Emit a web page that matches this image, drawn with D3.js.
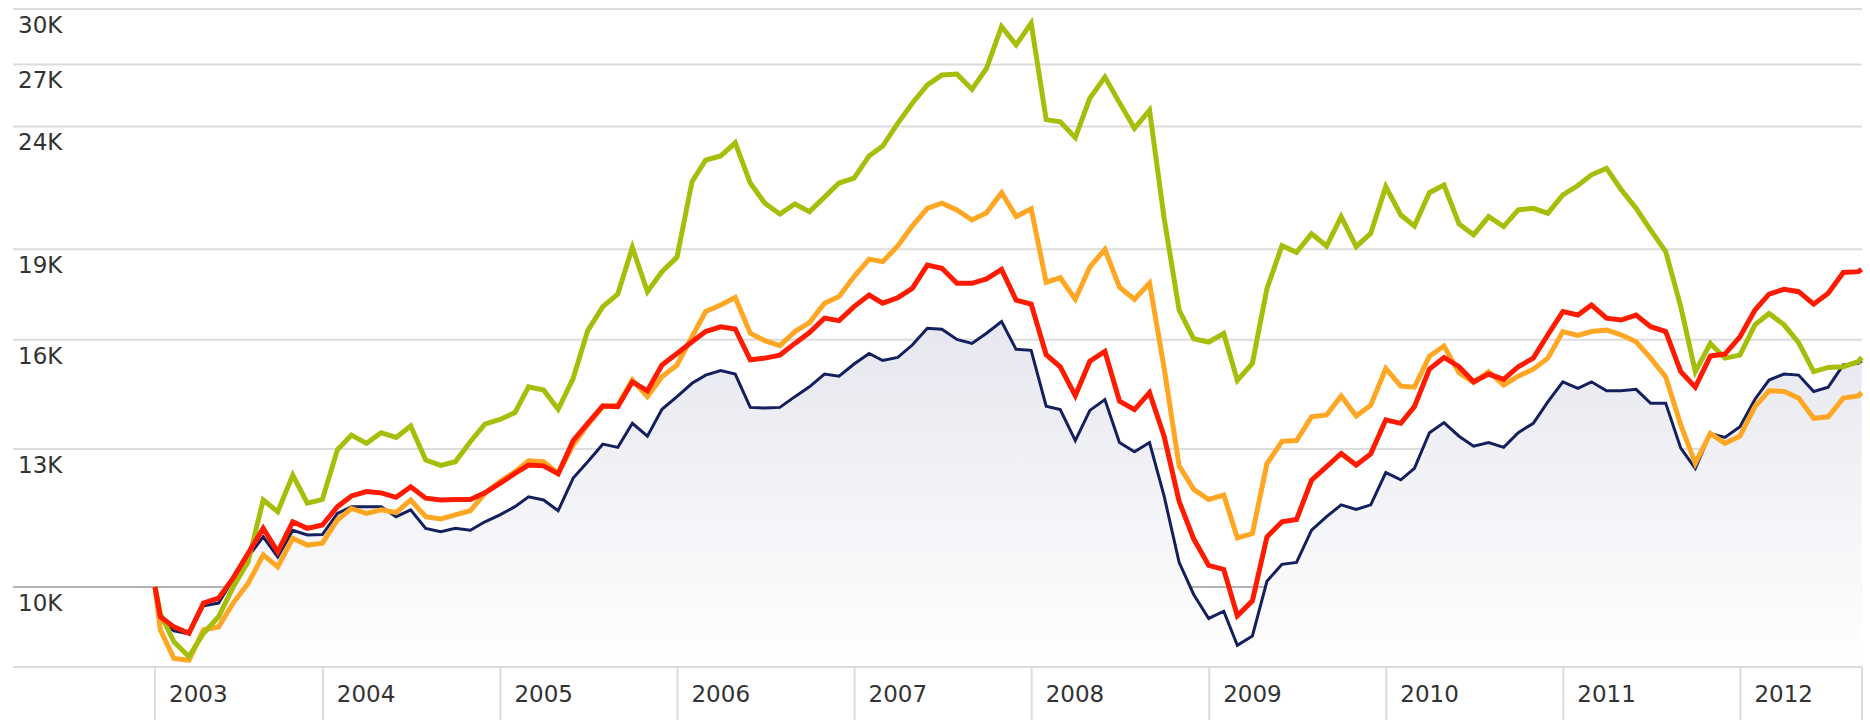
<!DOCTYPE html>
<html>
<head>
<meta charset="utf-8">
<script src="https://cdn.jsdelivr.net/npm/d3@7"></script>
<style>
body { margin: 0; background: #fff; }
svg { display: block; font-family: "DejaVu Sans", Verdana, sans-serif; }
.grid line { stroke: #dcdcdc; stroke-width: 2; }
.grid line.base { stroke: #b4b4b4; }
.ylabel, .xlabel { fill: #333; font-size: 23px; }
.xaxis line { stroke: #dcdcdc; stroke-width: 2; }
.series { fill: none; stroke-linejoin: miter; }
</style>
</head>
<body>
<svg id="chart" width="1870" height="720"></svg>
<script>
// first point is the start date, then month ends, last point is a mid-month date
var startDate = "2003-01-20";
var endDate = "2012-09-07";

var yTicks = [10000, 13000, 16000, 19000, 24000, 27000, 30000];
var yTickLabels = ["10K", "13K", "16K", "19K", "24K", "27K", "30K"];
var years = [2003, 2004, 2005, 2006, 2007, 2008, 2009, 2010, 2011, 2012];

var navy = [10000, 9400, 9200, 9150, 9650, 9700, 10150, 10590, 11000, 10590, 11140, 11040, 11050,
    11500, 11650, 11650, 11650, 11430, 11580, 11180, 11110, 11180, 11140, 11320, 11470,
    11650, 11870, 11800, 11560, 12300, 12690, 13120, 13040, 13650, 13320, 14020, 14360,
    14730, 14960, 15090, 14990, 14070, 14050, 14070, 14360, 14630, 14990, 14930, 15280,
    15590, 15380, 15470, 15840, 16350, 16320, 16010, 15890, 16200, 16560, 15710, 15680,
    14100, 14010, 13210, 13990, 14280, 13160, 12930, 13160, 11890, 10480, 9860, 9420,
    9550, 8950, 9110, 10110, 10440, 10480, 11140, 11430, 11690, 11590, 11690, 12430,
    12260, 12530, 13410, 13670, 13320, 13070, 13160, 13040, 13410, 13650, 14220, 14770,
    14590, 14770, 14520, 14520, 14560, 14180, 14180, 13020, 12530, 13390, 13290, 13560,
    14290, 14820, 14990, 14960, 14500, 14620, 15250, 15300, 15370];

var orange = [10000, 9220, 8730, 8700, 9220, 9270, 9700, 10070, 10630, 10390, 10970, 10830, 10870,
    11360, 11610, 11500, 11580, 11520, 11800, 11430, 11380, 11470, 11560, 11950, 12220,
    12450, 12710, 12690, 12410, 13100, 13610, 14090, 14130, 14820, 14360, 14910, 15250,
    16090, 16880, 17090, 17340, 16200, 15970, 15820, 16250, 16530, 17150, 17370, 18040,
    18650, 18560, 19120, 19860, 20540, 20740, 20480, 20090, 20370, 21160, 20220, 20520,
    17850, 18000, 17280, 18370, 19000, 17680, 17280, 17820, 15170, 12590, 12040, 11810,
    11910, 10980, 11070, 12640, 13190, 13210, 13820, 13870, 14380, 13840, 14130, 15150,
    14650, 14620, 15510, 15810, 15030, 14750, 15060, 14680, 14930, 15130, 15450, 16250,
    16130, 16250, 16300, 16150, 15940, 15450, 14910, 13610, 12650, 13390, 13140, 13320,
    14090, 14520, 14500, 14320, 13780, 13820, 14320, 14380, 14470];

var green = [10000, 9510, 9010, 8760, 9160, 9450, 10000, 10490, 11800, 11540, 12370, 11730, 11810,
    12980, 13350, 13140, 13410, 13290, 13580, 12730, 12600, 12690, 13180, 13630, 13750,
    13930, 14630, 14540, 14020, 14870, 16280, 17040, 17450, 19070, 17530, 18210, 18720,
    21610, 22510, 22690, 23260, 21550, 20740, 20320, 20710, 20410, 20980, 21550, 21750,
    22690, 23120, 24140, 25080, 25970, 26460, 26510, 25750, 26800, 29010, 28020, 29190,
    24310, 24210, 23490, 25320, 26360, 25110, 23910, 24750, 20170, 16930, 16030, 15930,
    16190, 14810, 15300, 17630, 19130, 18890, 19570, 19120, 20220, 19100, 19590, 21400,
    20280, 19860, 21160, 21470, 19940, 19530, 20220, 19840, 20480, 20540, 20350, 21070,
    21450, 21890, 22160, 21290, 20540, 19710, 18920, 17040, 15060, 15890, 15450, 15540,
    16460, 16820, 16460, 15910, 15060, 15180, 15200, 15350, 15470];

var red = [10000, 9450, 9270, 9160, 9700, 9790, 10170, 10660, 11180, 10690, 11320, 11180, 11250,
    11650, 11890, 11990, 11960, 11860, 12100, 11840, 11800, 11810, 11810, 11960, 12180,
    12410, 12610, 12590, 12400, 13210, 13650, 14110, 14090, 14770, 14520, 15250, 15590,
    15940, 16250, 16400, 16330, 15400, 15450, 15540, 15890, 16220, 16670, 16590, 17040,
    17420, 17150, 17330, 17640, 18440, 18330, 17810, 17810, 17960, 18290, 17250, 17120,
    15550, 15200, 14390, 15360, 15650, 14240, 14010, 14470, 13320, 11770, 10960, 10420,
    10340, 9470, 9740, 11000, 11320, 11370, 12250, 12570, 12890, 12610, 12880, 13740,
    13650, 14090, 15130, 15470, 15200, 14770, 14990, 14840, 15200, 15450, 16150, 16880,
    16770, 17090, 16670, 16610, 16770, 16400, 16250, 15060, 14620, 15510, 15570, 16090,
    16930, 17450, 17610, 17530, 17120, 17480, 18180, 18210, 18290];

var parse = d3.timeParse("%Y-%m-%d");
var dates = [parse(startDate)]
    .concat(d3.range(1, 117).map(function(k) { return new Date(2003, k, 0); }))
    .concat([parse(endDate)]);

var svg = d3.select("#chart");
var plotLeft = 13, plotRight = 1862, plotTop = 9, plotBottom = 667;

var x = d3.scaleTime()
    .domain([dates[0], dates[dates.length - 1]])
    .range([155, 1861.7]);

var y = d3.scaleLog()
    .domain([8590, 30000])
    .range([plotBottom, plotTop]);

// gradient for the area under the navy series
var defs = svg.append("defs");
var grad = defs.append("linearGradient")
    .attr("id", "areaFill")
    .attr("x1", 0).attr("y1", 0).attr("x2", 0).attr("y2", 1);
grad.append("stop").attr("offset", "0%").attr("stop-color", "#e6e7ef");
grad.append("stop").attr("offset", "100%").attr("stop-color", "#ffffff");

// horizontal grid
var grid = svg.append("g").attr("class", "grid");
grid.selectAll("line")
    .data(yTicks)
    .enter().append("line")
    .attr("class", function(d) { return d === 10000 ? "base" : null; })
    .attr("x1", plotLeft).attr("x2", plotRight)
    .attr("y1", function(d) { return y(d); })
    .attr("y2", function(d) { return y(d); });

svg.append("g").selectAll("text")
    .data(yTicks)
    .enter().append("text")
    .attr("class", "ylabel")
    .attr("x", 18)
    .attr("y", function(d) { return y(d) + 24; })
    .text(function(d, i) { return yTickLabels[i]; });

// series
var pts = function(arr) { return arr.map(function(v, i) { return [dates[i], v]; }); };

var area = d3.area()
    .x(function(d) { return x(d[0]); })
    .y0(plotBottom)
    .y1(function(d) { return y(d[1]); });

var line = d3.line()
    .x(function(d) { return x(d[0]); })
    .y(function(d) { return y(d[1]); });

svg.append("path")
    .datum(pts(navy))
    .attr("d", area)
    .attr("fill", "url(#areaFill)");

var series = [
    { data: navy, color: "#14205e", width: 3 },
    { data: orange, color: "#ffa622", width: 5 },
    { data: green, color: "#a6be09", width: 5 },
    { data: red, color: "#ff1a00", width: 5 }
];

svg.append("g").selectAll("path")
    .data(series)
    .enter().append("path")
    .attr("class", "series")
    .attr("d", function(d) { return line(pts(d.data)); })
    .attr("stroke", function(d) { return d.color; })
    .attr("stroke-width", function(d) { return d.width; });

// x axis: baseline, year separators and labels
var xaxis = svg.append("g").attr("class", "xaxis");
xaxis.append("line")
    .attr("x1", plotLeft).attr("x2", plotRight)
    .attr("y1", plotBottom).attr("y2", plotBottom);

var bandStarts = years.map(function(yr, i) {
    return i === 0 ? x(dates[0]) : x(new Date(yr, 0, 1));
});

xaxis.selectAll(".sep")
    .data(bandStarts.concat([plotRight]))
    .enter().append("line")
    .attr("class", "sep")
    .attr("x1", function(d) { return d; })
    .attr("x2", function(d) { return d; })
    .attr("y1", plotBottom).attr("y2", 720);

xaxis.selectAll("text")
    .data(years)
    .enter().append("text")
    .attr("class", "xlabel")
    .attr("x", function(d, i) { return bandStarts[i] + 14; })
    .attr("y", 702)
    .text(function(d) { return d; });
</script>
</body>
</html>
